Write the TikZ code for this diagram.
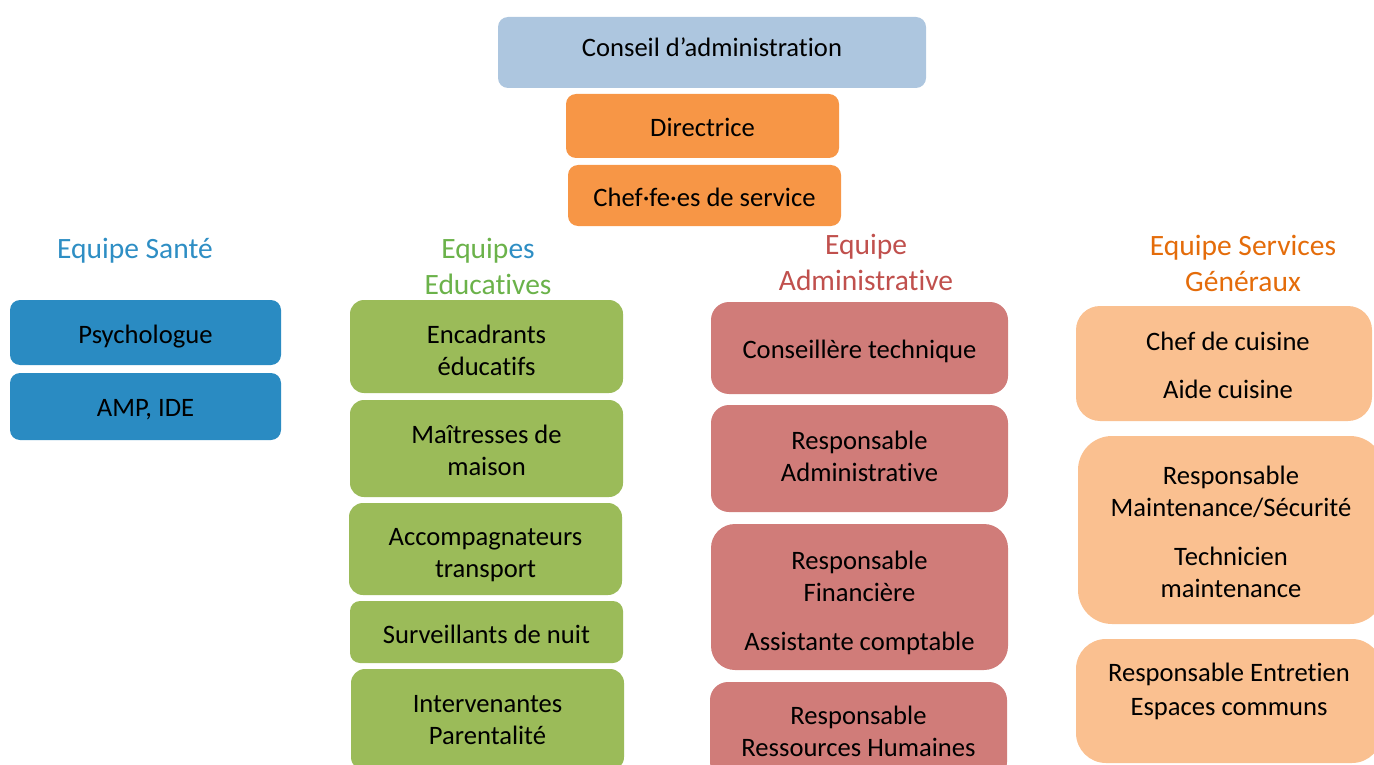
\documentclass[tikz,border=0pt]{standalone}
\usepackage{fontspec}
\setmainfont{Carlito}[RawFeature=-liga, RawFeature=-calt, RawFeature=-clig, RawFeature=-dlig]
\definecolor{cablue}{HTML}{ADC6DF}
\definecolor{dirorange}{HTML}{F79646}
\definecolor{santeblue}{HTML}{2A8BC2}
\definecolor{santehead}{HTML}{2E8EC4}
\definecolor{edugreen}{HTML}{9BBB59}
\definecolor{eduhead}{HTML}{6BB24A}
\definecolor{admred}{HTML}{D07C79}
\definecolor{admhead}{HTML}{C0504D}
\definecolor{sgpeach}{HTML}{FAC090}
\definecolor{sghead}{HTML}{E46C0A}
\begin{document}
\begin{tikzpicture}[x=1pt,y=-1pt,
  box/.style={rectangle, rounded corners=#1, inner sep=0pt},
  box/.default=10pt,
  txt/.style={inner sep=0pt, align=center, font=\fontsize{26.6}{32}\selectfont, text=black},
  head/.style={inner sep=0pt, align=center, font=\fontsize{29.5}{36}\selectfont}]
\useasboundingbox (0,0) rectangle (1374,765);
\clip (0,0) rectangle (1374,765);
% top
\node[box, fill=cablue, minimum width=428pt, minimum height=71pt] (ca) at (712,52.5) {};
\node[txt] (caT) at (712,47.5) {Conseil d’administration};
\node[box, fill=dirorange, minimum width=273pt, minimum height=64pt] (dir) at (702.5,126) {};
\node[txt] (dirT) at (702.5,127) {Directrice};
\node[box, fill=dirorange, minimum width=273pt, minimum height=61pt] (chef) at (704.5,195.5) {};
\node[txt] (chefT) at (704.5,197.5) {Chef·fe·es de service};
% headers
\node[head, text=santehead] (hsante) at (135,251) {Equipe Santé};
\node[head, text=eduhead] (hedu) at (488,266) {Equip\textcolor{santehead}{es}\\Educatives};
\node[head, text=admhead] (hadm) at (866,262) {Equipe\\Administrative};
\node[head, text=sghead] (hsg) at (1243,263) {Equipe Services\\Généraux};
% sante
\node[box, fill=santeblue, minimum width=271pt, minimum height=65pt] (psy) at (145.5,332.5) {};
\node[txt] (psyT) at (145.5,336.5) {Psychologue};
\node[box, fill=santeblue, minimum width=271pt, minimum height=67pt] (amp) at (145.5,406.5) {};
\node[txt] (ampT) at (145.5,409.5) {AMP, IDE};
% educatives
\node[box=14pt, fill=edugreen, minimum width=273pt, minimum height=93pt] (enc) at (486.5,346.5) {};
\node[txt] (encT) at (486.5,350) {Encadrants\\éducatifs};
\node[box=14pt, fill=edugreen, minimum width=273pt, minimum height=97pt] (mai) at (486.5,448.5) {};
\node[txt] (maiT) at (486.5,450) {Maîtresses de\\maison};
\node[box=14pt, fill=edugreen, minimum width=273pt, minimum height=92pt] (acc) at (485.5,549) {};
\node[txt] (accT) at (485.5,555) {Accompagnateurs\\transport};
\node[box, fill=edugreen, minimum width=273pt, minimum height=62pt] (sur) at (486.5,632) {};
\node[txt] (surT) at (486.5,634) {Surveillants de nuit};
\node[box=14pt, fill=edugreen, minimum width=273pt, minimum height=102pt] (int) at (487.5,720) {};
\node[txt] (intT) at (487.5,720.5) {Intervenantes\\Parentalité};
% administrative
\node[box=18pt, fill=admred, minimum width=297pt, minimum height=92pt] (cons) at (859.5,348) {};
\node[txt] (consT) at (859.5,351.5) {Conseillère technique};
\node[box=18pt, fill=admred, minimum width=297pt, minimum height=107pt] (radm) at (859.5,458.5) {};
\node[txt] (radmT) at (859.5,456) {Responsable\\Administrative};
\node[box=24pt, fill=admred, minimum width=297pt, minimum height=146pt] (rfin) at (859.5,597) {};
\node[txt] (rfinT) at (859.5,602.5) {Responsable\\Financière\\[17pt]Assistante comptable};
\node[box=18pt, fill=admred, minimum width=297pt, minimum height=98pt] (rrh) at (858.5,731) {};
\node[txt] (rrhT) at (858.5,731.5) {Responsable\\Ressources Humaines};
% services generaux
\node[box=24pt, fill=sgpeach, minimum width=296pt, minimum height=115pt] (cuis) at (1224,363.5) {};
\node[txt] (cuisT) at (1228,365) {Chef de cuisine\\[16pt]Aide cuisine};
\node[box=34pt, fill=sgpeach, minimum width=306pt, minimum height=188pt] (maint) at (1231,530) {};
\node[txt] (maintT) at (1231,531.5) {Responsable\\Maintenance/Sécurité\\[17pt]Technicien\\maintenance};
\node[box=30pt, fill=sgpeach, minimum width=306pt, minimum height=124pt] (ent) at (1229,701) {};
\node[txt] (entT) at (1229,691) {Responsable Entretien\\[2pt]Espaces communs};
\end{tikzpicture}
\end{document}
